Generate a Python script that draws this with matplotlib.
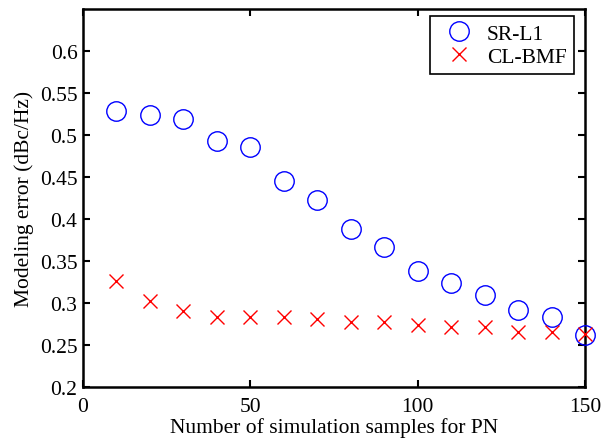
import matplotlib
matplotlib.use("Agg")
import matplotlib.pyplot as plt

x = [10, 20, 30, 40, 50, 60, 70, 80, 90, 100, 110, 120, 130, 140, 150]
sr_l1 = [0.529, 0.524, 0.519, 0.493, 0.486, 0.445, 0.423, 0.388, 0.367, 0.338, 0.324, 0.310, 0.292, 0.284, 0.262]
cl_bmf = [0.326, 0.303, 0.290, 0.284, 0.283, 0.284, 0.281, 0.278, 0.278, 0.274, 0.271, 0.271, 0.266, 0.266, 0.263]
xticks = [0, 50, 100, 150]
yticks = [0.2, 0.25, 0.3, 0.35, 0.4, 0.45, 0.5, 0.55, 0.6]

plt.rcParams['font.family'] = ['Liberation Serif']
fig = plt.figure(figsize=(6.1, 4.39), dpi=100)
ax = fig.add_axes([0.136, 0.116, 0.823, 0.861])
ax.plot(x, sr_l1, linestyle='none', marker='o', markersize=14, markerfacecolor='none',
        markeredgecolor='blue', markeredgewidth=1.0, label='SR-L1', clip_on=False, zorder=3)
ax.plot(x, cl_bmf, linestyle='none', marker='x', markersize=10, color='red',
        markeredgewidth=1.0, label='CL-BMF', clip_on=False, zorder=4)
ax.set_xlim(0, 150)
ax.set_ylim(0.2, 0.65)
ax.set_xticks(xticks)
ax.set_xticklabels([str(t) for t in xticks])
ax.set_yticks(yticks)
ax.set_yticklabels([('%g' % t) for t in yticks])
ax.tick_params(direction='in', top=True, right=True, labelsize=15.5, length=5, width=1.5)
ax.tick_params(axis='x', pad=7)
ax.tick_params(axis='y', pad=4)
for s in ax.spines.values():
    s.set_linewidth(1.8)
ax.set_xlabel('Number of simulation samples for PN', fontsize=15.5, labelpad=1)
ax.set_ylabel('Modeling error (dBc/Hz)', fontsize=15.5, labelpad=4)
leg = ax.legend(loc='upper right', bbox_to_anchor=(574 / 610, 1 - 17 / 439),
                bbox_transform=fig.transFigure, borderaxespad=0,
                fontsize=15.5, fancybox=False, framealpha=1, edgecolor='black',
                handletextpad=0.3, labelspacing=0.15, borderpad=0.35)
leg.get_frame().set_linewidth(1.2)
fig.savefig('out.png', dpi=100)
